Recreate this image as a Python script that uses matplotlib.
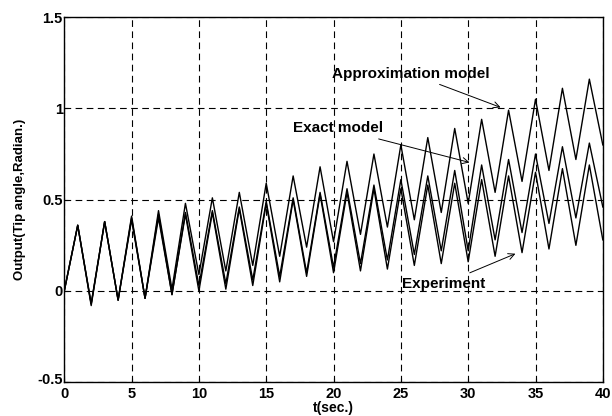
import matplotlib.pyplot as plt
from matplotlib.transforms import ScaledTranslation

plt.rcParams["font.family"] = ["Liberation Sans", "DejaVu Sans"]
plt.rcParams["font.weight"] = "bold"

# time of each peak / trough (sec.)
t = list(range(0, 41))

# approximation model: extrema values
approx = [0.00, 0.36, -0.07, 0.38, -0.05, 0.41, -0.04, 0.44, 0.01, 0.48,
          0.09, 0.51, 0.11, 0.54, 0.14, 0.59, 0.19, 0.63, 0.24, 0.68,
          0.27, 0.71, 0.31, 0.75, 0.35, 0.80, 0.39, 0.84, 0.43, 0.89,
          0.48, 0.94, 0.54, 0.99, 0.60, 1.05, 0.66, 1.11, 0.72, 1.16,
          0.80]

# exact model
exact = [0.00, 0.36, -0.07, 0.38, -0.05, 0.40, -0.04, 0.42, -0.02, 0.43,
         0.03, 0.44, 0.04, 0.46, 0.06, 0.49, 0.08, 0.51, 0.10, 0.54,
         0.13, 0.56, 0.15, 0.58, 0.17, 0.61, 0.20, 0.63, 0.22, 0.66,
         0.22, 0.69, 0.28, 0.72, 0.32, 0.75, 0.37, 0.79, 0.40, 0.81,
         0.46]

# experiment
experiment = [0.00, 0.36, -0.08, 0.38, -0.05, 0.39, -0.04, 0.40, -0.02, 0.42,
              0.00, 0.43, 0.01, 0.45, 0.03, 0.48, 0.05, 0.50, 0.08, 0.53,
              0.10, 0.54, 0.11, 0.56, 0.12, 0.56, 0.14, 0.58, 0.15, 0.59,
              0.16, 0.61, 0.19, 0.63, 0.21, 0.65, 0.23, 0.67, 0.25, 0.69,
              0.28]

fig = plt.figure(figsize=(6.12, 4.16), dpi=100)
ax = fig.add_axes([0.105, 0.081, 0.88, 0.878])

ax.plot(t, approx, color="black", lw=1.0)
ax.plot(t, exact, color="black", lw=1.0)
ax.plot(t, experiment, color="black", lw=1.0)

ax.set_xlim(0, 40)
ax.set_ylim(-0.5, 1.5)
ax.set_xticks([0, 5, 10, 15, 20, 25, 30, 35, 40])
ax.set_yticks([-0.5, 0, 0.5, 1, 1.5])
ax.set_yticklabels(["-0.5", "0", "0.5", "1", "1.5"])
ax.grid(True, color="black", linestyle=(0, (6, 4)), linewidth=0.8)
ax.tick_params(direction="in", length=3, labelsize=10.5)
ax.tick_params(axis="x", pad=3.5)
ax.tick_params(axis="y", pad=1)
for s in ax.spines.values():
    s.set_linewidth(1.0)

# nudge the bottom y label up a little so it does not touch the x "0"
lab = ax.get_yticklabels()[0]
lab.set_transform(lab.get_transform() + ScaledTranslation(0, 3 / 72, fig.dpi_scale_trans))

ax.set_xlabel("t(sec.)", fontsize=10, fontweight="bold", labelpad=0)
ax.set_ylabel("Output(Tip angle,Radian.)", fontsize=9.5, fontweight="bold", labelpad=8)

arrow = dict(arrowstyle="->", color="black", lw=0.7)
ax.annotate("Approximation model", xy=(32.6, 1.0), xytext=(19.9, 1.19),
            fontsize=11, fontweight="bold", va="center", arrowprops=arrow)
ax.annotate("Exact model", xy=(30.3, 0.70), xytext=(17.0, 0.89),
            fontsize=11, fontweight="bold", va="center", arrowprops=arrow)
ax.annotate("Experiment", xy=(33.7, 0.21), xytext=(25.1, 0.04),
            fontsize=11, fontweight="bold", va="center", arrowprops=arrow)

fig.savefig("out.png", dpi=100)
